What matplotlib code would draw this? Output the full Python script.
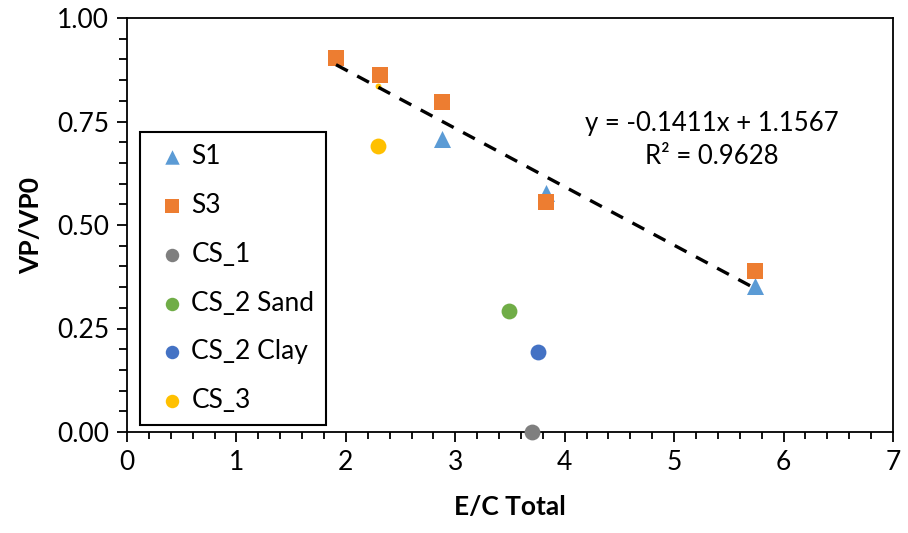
import matplotlib.pyplot as plt
import numpy as np
from matplotlib.ticker import MultipleLocator, FormatStrFormatter

plt.rcParams['font.family'] = ['Lato', 'DejaVu Sans']

# data
s1_x = [2.88, 3.83, 5.74]
s1_y = [0.708, 0.577, 0.353]
s3_x = [1.91, 2.31, 2.88, 3.83, 5.74]
s3_y = [0.903, 0.862, 0.797, 0.555, 0.389]
cs1_x = [3.70]
cs1_y = [0.0]
cs2_sand_x = [3.49]
cs2_sand_y = [0.292]
cs2_clay_x = [3.76]
cs2_clay_y = [0.193]
cs3_x = [2.29]
cs3_y = [0.690]
cs3_small_x = [2.29]
cs3_small_y = [0.835]

slope = -0.1411
intercept = 1.1567

fig = plt.figure(figsize=(9.08, 5.33), dpi=100)
ax = fig.add_axes([127/908, 1-432/533, 766/908, 414/533])

ax.scatter(s1_x, s1_y, marker='^', s=150, color='#5B9BD5', label='S1', zorder=3, linewidths=0)
ax.scatter(s3_x, s3_y, marker='s', s=125, color='#ED7D31', label='S3', zorder=4, linewidths=0)
ax.scatter(cs1_x, cs1_y, marker='o', s=130, color='#7F7F7F', label='CS_1', zorder=4, linewidths=0, clip_on=False)
ax.scatter(cs2_sand_x, cs2_sand_y, marker='o', s=130, color='#70AD47', label='CS_2 Sand', zorder=4, linewidths=0)
ax.scatter(cs2_clay_x, cs2_clay_y, marker='o', s=130, color='#4472C4', label='CS_2 Clay', zorder=4, linewidths=0)
ax.scatter(cs3_x, cs3_y, marker='o', s=130, color='#FFC000', label='CS_3', zorder=4, linewidths=0)
ax.scatter(cs3_small_x, cs3_small_y, marker='o', s=18, color='#FFC000', zorder=5, linewidths=0)

# linear trendline
xs = np.array([min(s3_x), max(s3_x)])
ax.plot(xs, slope * xs + intercept, color='black', lw=2.4, dashes=(4.0, 3.2), zorder=6)

ax.text(5.34, 0.706, 'y = -0.1411x + 1.1567\nR² = 0.9628', ha='center', va='center',
        fontsize=18.5, linespacing=1.42)

ax.set_xlim(0, 7)
ax.set_ylim(0, 1.0)
ax.xaxis.set_major_locator(MultipleLocator(1))
ax.xaxis.set_minor_locator(MultipleLocator(0.2))
ax.yaxis.set_major_locator(MultipleLocator(0.25))
ax.yaxis.set_minor_locator(MultipleLocator(0.05))
ax.yaxis.set_major_formatter(FormatStrFormatter('%.2f'))
ax.tick_params(axis='both', which='major', labelsize=19, direction='out', length=7, width=1.3, pad=6)
ax.tick_params(axis='both', which='minor', direction='out', length=6, width=1.3)
ax.tick_params(axis='x', which='minor', length=5)

for sp in ax.spines.values():
    sp.set_linewidth(1.3)

ax.set_xlabel('E/C Total', fontsize=19, fontweight='bold', labelpad=14)
ax.set_ylabel('VP/VP0', fontsize=19, fontweight='bold', labelpad=10)

leg = ax.legend(loc='lower left', bbox_to_anchor=(0.017, 0.017), fontsize=19, fancybox=False,
                framealpha=1, edgecolor='black', labelspacing=0.9, handletextpad=0.0,
                borderpad=0.45, handlelength=1.5, markerscale=0.85, borderaxespad=0)
leg.get_frame().set_linewidth(1.5)

fig.savefig('out.png', dpi=100)
